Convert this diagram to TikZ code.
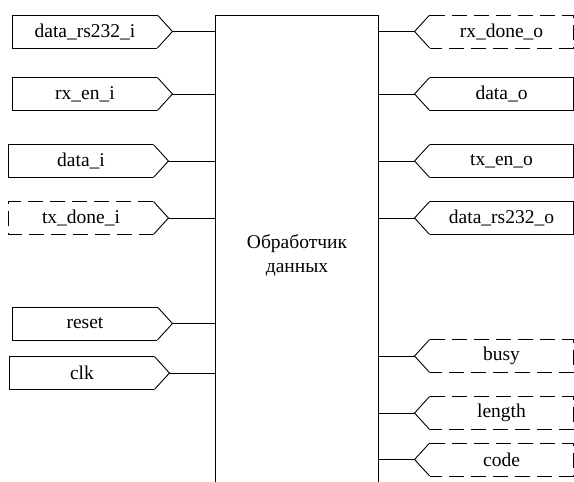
\documentclass[tikz,border=0pt]{standalone}
\usepackage{fontspec}
\setmainfont{LiberationSerif-Regular.ttf}
\usepackage{tikz}
\usetikzlibrary{calc}

\tikzset{
  port/.style={minimum width=144pt, minimum height=32pt, inner sep=0pt},
  opt/.style={dash pattern=on 15pt off 7pt},
  full/.style={solid},
}

\begin{document}
\begin{tikzpicture}[x=1pt, y=-1pt, line width=0.9pt, font=\fontsize{19.5}{24}\selectfont]

        \useasboundingbox (0,0) rectangle (574,482);

        % main block
        \node[draw, minimum width=163pt, minimum height=480pt, align=center] (core) at (297,255) {Обработчик\\данных};

        % inputs
        \foreach \n/\t/\x/\y/\s in {drsi/data\_rs232\_i/85/31.5/full, rxen/rx\_en\_i/85/94/full,
                                  dati/data\_i/81/161/full, txdn/tx\_done\_i/81/218/opt,
                                  rst/reset/85/323.5/full, clk/clk/82/373/full}
        {
        \node[port] (\n) at (\x,\y) {\t};
        \coordinate (\n-tip) at ($(\n.east)+(15,0)$);
        \draw[\s] (\n.north east) -- (\n.north west) -- (\n.south west) -- (\n.south east);
        \draw (\n.north east) -- (\n-tip) -- (\n.south east);
        \draw (\n-tip) -- (\n-tip -| core.west);
        }

        % outputs
        \foreach \n/\t/\y/\s in {rxdn/rx\_done\_o/31.5/opt, dato/data\_o/94/full,
                               txen/tx\_en\_o/161/full, drso/data\_rs232\_o/218/full,
                               busy/busy/356/opt, len/length/413/opt, code/code/459.5/opt}
        {
        \node[port, minimum width=143pt] (\n) at (501.5,\y) {\t};
        \coordinate (\n-tip) at ($(\n.west)-(15,0)$);
        \draw[\s] (\n.north west) -- (\n.north east) -- (\n.south east) -- (\n.south west);
        \draw (\n.north west) -- (\n-tip) -- (\n.south west);
        \draw (\n-tip) -- (\n-tip -| core.east);
        }

\end{tikzpicture}
\end{document}
